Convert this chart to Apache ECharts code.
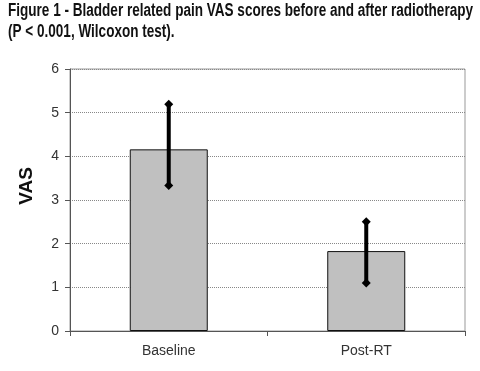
<!DOCTYPE html>
<html><head><meta charset="utf-8">
<script src="https://cdn.jsdelivr.net/npm/echarts@6/dist/echarts.min.js"></script>
<style>html,body{margin:0;padding:0;background:#fff}#c{width:480px;height:371px}</style>
</head><body><div id="c"></div>
<script>
const categories = ['Baseline', 'Post-RT'];
const vasMean = [4.16, 1.83];
const errLow = [3.33, 1.10];
const errHigh = [5.19, 2.50];
const yTicks = [0, 1, 2, 3, 4, 5, 6];
const titleLines = ['Figure 1 - Bladder related pain VAS scores before and after radiotherapy', '(P < 0.001, Wilcoxon test).'];

const titleFont = 'bold 18px "Liberation Sans", Arial, sans-serif';
const mctx = document.createElement('canvas').getContext('2d');
mctx.font = titleFont;
const titleScale = 465 / mctx.measureText(titleLines[0]).width;

const chart = echarts.init(document.getElementById('c'), null, {renderer: 'canvas'});
chart.setOption({
  animation: false,
  backgroundColor: '#fff',
  graphic: titleLines.map((t, i) => ({
    type: 'text', left: 8, top: 2 + i * 21, scaleX: titleScale, originX: 0,
    style: {text: t, font: titleFont, fill: '#111'}
  })),
  grid: {left: 70, right: 15, top: 69, bottom: 40, show: true, borderColor: '#999', borderWidth: 1, backgroundColor: 'transparent'},
  xAxis: {
    type: 'category', data: categories, boundaryGap: true,
    axisLine: {lineStyle: {color: '#555', width: 1}},
    axisTick: {show: true, alignWithLabel: false, length: 5, lineStyle: {color: '#555'}},
    axisLabel: {fontFamily: 'Liberation Sans, Arial, sans-serif', fontSize: 14, color: '#333', margin: 13}
  },
  yAxis: {
    type: 'value', min: yTicks[0], max: yTicks[yTicks.length - 1], interval: 1,
    name: 'VAS', nameLocation: 'middle', nameGap: 34, nameRotate: 90,
    nameTextStyle: {fontFamily: 'Liberation Sans, Arial, sans-serif', fontWeight: 'bold', fontSize: 19, color: '#111', padding: [0, 0, 0, 28]},
    axisLine: {show: true, lineStyle: {color: '#555', width: 1}},
    axisTick: {show: true, length: 5, lineStyle: {color: '#555'}},
    axisLabel: {fontFamily: 'Liberation Sans, Arial, sans-serif', fontSize: 14, color: '#333', margin: 11},
    splitLine: {show: true, lineStyle: {color: '#888', type: [1, 1], width: 1}}
  },
  series: [
    {
      type: 'bar', data: vasMean, barWidth: 78,
      itemStyle: {color: '#c0c0c0', borderColor: '#111', borderWidth: 1}
    },
    {
      type: 'custom',
      data: categories.map((c, i) => [i, errLow[i], errHigh[i]]),
      renderItem: function (params, api) {
        const x = api.value(0);
        const lo = api.coord([x, api.value(1)]);
        const hi = api.coord([x, api.value(2)]);
        const d = 4.5;
        const diamond = p => ({
          type: 'polygon',
          shape: {points: [[p[0], p[1] - d], [p[0] + d, p[1]], [p[0], p[1] + d], [p[0] - d, p[1]]]},
          style: {fill: '#000'}
        });
        return {
          type: 'group',
          children: [
            {type: 'line', shape: {x1: lo[0], y1: lo[1], x2: hi[0], y2: hi[1]}, style: {stroke: '#000', lineWidth: 4}},
            diamond(lo), diamond(hi)
          ]
        };
      },
      z: 10
    }
  ]
});
</script></body></html>
